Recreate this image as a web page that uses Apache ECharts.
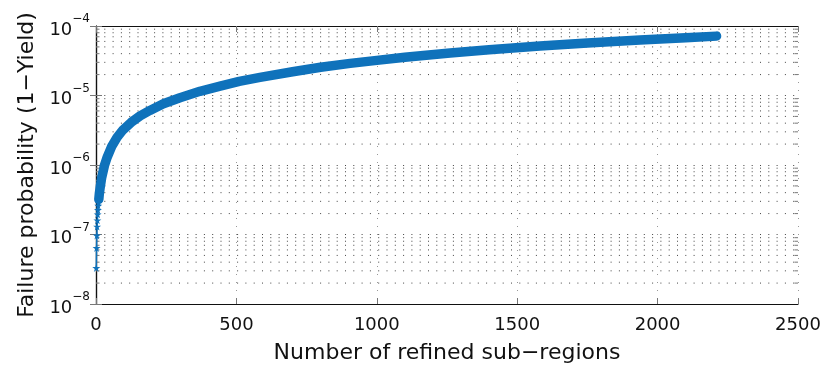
<!DOCTYPE html>
<html>
<head>
<meta charset="utf-8">
<script src="https://cdn.jsdelivr.net/npm/echarts@6/dist/echarts.min.js"></script>
<style>html,body{margin:0;padding:0;background:#fff;}#c{width:826px;height:369px;}</style>
</head>
<body>
<div id="c"></div>
<script>
// Number of refined sub-regions (x) and failure probability (y)
const starN = [1, 2, 3, 4, 5, 6, 7, 8, 9, 10, 12];
const starP = [3.3e-8, 6.4e-8, 9.7e-8, 1.3e-7, 1.6e-7, 1.95e-7, 2.25e-7, 2.6e-7, 2.9e-7, 3.2e-7, 3.9e-7];
const curveN = [10, 12, 15, 20, 30, 40, 56, 75, 96, 125, 157, 192, 240, 299, 370, 442, 510, 584, 700, 800, 905, 1000, 1100, 1261, 1400, 1581, 1750, 1937, 2100, 2210];
const curveP = [3.2e-7, 3.9e-7, 4.8e-7, 6.5e-7, 9.8e-7, 1.3e-6, 1.85e-6, 2.5e-6, 3.2e-6, 4.1e-6, 5.1e-6, 6.1e-6, 7.6e-6, 9.3e-6, 1.15e-5, 1.36e-5, 1.6e-5, 1.82e-5, 2.2e-5, 2.55e-5, 2.9e-5, 3.2e-5, 3.55e-5, 4.1e-5, 4.55e-5, 5.15e-5, 5.7e-5, 6.3e-5, 6.8e-5, 7.15e-5];
const xTicks = [0, 500, 1000, 1500, 2000, 2500];
const yDecades = [-8, -7, -6, -5, -4];
const xTitle = 'Number of refined sub\u2212regions';
const yTitle = 'Failure probability (1\u2212Yield)';

const minorVals = [];
for (let d = yDecades[0]; d < yDecades[yDecades.length - 1]; d++) for (let m = 2; m <= 9; m++) minorVals.push([0, m * Math.pow(10, d)]);

const blue = '#0f72bb';
const star = 'path://M50,0 L61,35 L98,35 L68,57 L79,91 L50,70 L21,91 L32,57 L2,35 L39,35 Z';
const fontFamily = '"DejaVu Sans", "Liberation Sans", Arial, sans-serif';

const chart = echarts.init(document.getElementById('c'), null, {renderer: 'canvas'});
chart.setOption({
  animation: false,
  backgroundColor: '#fff',
  grid: {left: 96, right: 28, top: 26, bottom: 60, containLabel: false},
  xAxis: [{
    type: 'value', min: xTicks[0], max: xTicks[xTicks.length - 1], interval: 500,
    name: xTitle, nameLocation: 'middle', nameGap: 38,
    nameTextStyle: {fontSize: 22, color: '#111', fontFamily: fontFamily},
    axisLine: {lineStyle: {color: '#111', width: 1.2}},
    axisTick: {inside: true, length: 6, lineStyle: {color: '#777'}},
    axisLabel: {fontSize: 18, color: '#111', margin: 12, fontFamily: fontFamily,
      formatter: function (v) { return String(v); }},
    splitLine: {show: true, lineStyle: {color: '#999', type: [1, 7], width: 1}}
  }, {
    type: 'value', position: 'top', min: xTicks[0], max: xTicks[xTicks.length - 1], interval: 500,
    axisLine: {show: true, lineStyle: {color: '#111', width: 1.2}},
    axisTick: {inside: true, length: 6, lineStyle: {color: '#777'}},
    axisLabel: {show: false}, splitLine: {show: false}
  }],
  yAxis: [{
    type: 'log', logBase: 10, min: 1e-8, max: 1e-4,
    name: yTitle, nameLocation: 'middle', nameGap: 56,
    nameTextStyle: {fontSize: 22, color: '#111', fontFamily: fontFamily},
    axisLine: {show: true, lineStyle: {color: '#111', width: 1.2}},
    axisTick: {inside: true, length: 6, lineStyle: {color: '#777'}},
    axisLabel: {
      margin: 6, color: '#111', fontFamily: fontFamily,
      formatter: function (v) {
        const e = Math.round(Math.log10(v));
        return '{b|10}{s|' + (e < 0 ? '\u2212' + (-e) : e) + '}';
      },
      rich: {
        b: {fontSize: 18, lineHeight: 26, verticalAlign: 'bottom', fontFamily: fontFamily, color: '#111'},
        s: {fontSize: 12, lineHeight: 12, verticalAlign: 'top', fontFamily: fontFamily, color: '#111'}
      }
    },
    splitLine: {show: true, lineStyle: {color: '#444', type: [1, 7.3], width: 1}}
  }, {
    type: 'log', logBase: 10, min: 1e-8, max: 1e-4, position: 'right',
    axisLine: {show: true, lineStyle: {color: '#111', width: 1.2}},
    axisTick: {inside: true, length: 6, lineStyle: {color: '#777'}},
    axisLabel: {show: false}, splitLine: {show: false}
  }],
  series: [{
    type: 'custom', silent: true, clip: false, z: 1,
    data: minorVals,
    encode: {x: 0, y: 1},
    renderItem: function (params, api) {
      const v = api.value(1);
      const p0 = api.coord([0, v]);
      const p1 = api.coord([2500, v]);
      return {type: 'group', children: [
        {type: 'line', shape: {x1: p0[0], y1: p0[1], x2: p1[0], y2: p1[1]},
         style: {stroke: '#444', lineWidth: 1, lineDash: [1, 7.3]}},
        {type: 'line', shape: {x1: p0[0], y1: p0[1], x2: p0[0] + 3.5, y2: p0[1]},
         style: {stroke: '#777', lineWidth: 1}},
        {type: 'line', shape: {x1: p1[0], y1: p1[1], x2: p1[0] - 3.5, y2: p1[1]},
         style: {stroke: '#777', lineWidth: 1}}
      ]};
    }
  }, {
    type: 'line', z: 3,
    data: curveN.map((n, i) => [n, curveP[i]]),
    showSymbol: false, symbol: 'none',
    lineStyle: {color: blue, width: 9.5, cap: 'round', join: 'round'}
  }, {
    type: 'line', z: 4,
    data: starN.map((n, i) => [n, starP[i]]),
    symbol: star, symbolSize: 8, showSymbol: true,
    itemStyle: {color: blue},
    lineStyle: {color: blue, width: 1.5}
  }]
});
</script>
</body>
</html>
